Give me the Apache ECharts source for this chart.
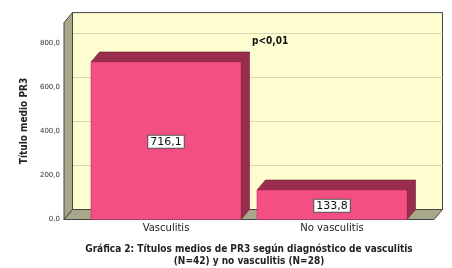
<!DOCTYPE html>
<html><head><meta charset="utf-8">
<script src="https://cdn.jsdelivr.net/npm/echarts@6/dist/echarts.min.js"></script>
<style>html,body{margin:0;padding:0;background:#fff}#c{width:452px;height:268px}</style>
</head><body><div id="c"></div>
<script>
const categories = ['Vasculitis', 'No vasculitis'];
const values = [716.1, 133.8];
const yTicks = [0, 200, 400, 600, 800];
const yName = 'Título medio PR3';
const titleText = 'Gráfica 2: Títulos medios de PR3 según diagnóstico de vasculitis\n(N=42) y no vasculitis (N=28)';
const pText = 'p<0,01';

const DX = 8.5, DY = 10;
const FONT = '"DejaVu Sans", Verdana, sans-serif';
const CFONT = '"DejaVu Sans Condensed", "DejaVu Sans", sans-serif';
const chart = echarts.init(document.getElementById('c'), null, {renderer: 'canvas'});

function wallItem(params, api) {
  const cs = params.coordSys;
  const x0 = cs.x, x1 = cs.x + cs.width, yT = cs.y, y0 = cs.y + cs.height;
  const ch = [];
  ch.push({type: 'polygon', shape: {points: [[x0 + DX, yT - DY], [x1 + DX, yT - DY], [x1 + DX, y0 - DY], [x0 + DX, y0 - DY]]},
    style: {fill: '#fefdd0', stroke: '#444', lineWidth: 1}});
  yTicks.forEach(t => {
    if (t === 0) return;
    const y = api.coord([0, t])[1] - DY;
    ch.push({type: 'line', shape: {x1: x0 + DX, y1: y, x2: x1 + DX, y2: y}, style: {stroke: '#d9d7b4', lineWidth: 1}});
  });
  ch.push({type: 'polygon', shape: {points: [[x0, y0], [x0, yT], [x0 + DX, yT - DY], [x0 + DX, y0 - DY]]},
    style: {fill: '#a9a78a', stroke: '#444', lineWidth: 1}});
  ch.push({type: 'polygon', shape: {points: [[x0, y0], [x1, y0], [x1 + DX, y0 - DY], [x0 + DX, y0 - DY]]},
    style: {fill: '#a9a78a', stroke: '#444', lineWidth: 1}});
  return {type: 'group', children: ch};
}

function barItem(params, api) {
  const xi = api.value(0), v = api.value(1);
  const top = api.coord([xi, v]);
  const base = api.coord([xi, 0]);
  const hw = api.size([0.9036, 0])[0] / 2;
  const xl = top[0] - hw, xr = top[0] + hw, yt = top[1], yb = base[1];
  const label = values[params.dataIndex].toFixed(1).replace('.', ',');
  return {type: 'group', children: [
    {type: 'polygon', shape: {points: [[xr, yt], [xr + DX, yt - DY], [xr + DX, yb - DY], [xr, yb]]},
      style: {fill: '#9a2c4e', stroke: '#6a1f36', lineWidth: 0.6}},
    {type: 'polygon', shape: {points: [[xl, yt], [xl + DX, yt - DY], [xr + DX, yt - DY], [xr, yt]]},
      style: {fill: '#9a2c4e', stroke: '#6a1f36', lineWidth: 0.6}},
    {type: 'rect', shape: {x: xl, y: yt, width: xr - xl, height: yb - yt},
      style: {fill: '#f34f82', stroke: '#b8365e', lineWidth: 0.6}},
    {type: 'text', x: (xl + xr) / 2, y: (yt + yb) / 2 + 1,
      style: {text: label, fill: '#111', font: '11px ' + FONT, align: 'center', verticalAlign: 'middle',
        backgroundColor: '#fff', borderColor: '#555', borderWidth: 1, padding: [1, 2, 0, 2]}}
  ]};
}

chart.setOption({
  animation: false,
  backgroundColor: '#fff',
  grid: {left: 64, right: 18, top: 22.6, bottom: 48.5},
  title: {text: titleText, left: 244, textAlign: 'center', top: 238,
    textStyle: {fontFamily: CFONT, fontWeight: 'bold', fontSize: 10, lineHeight: 12, color: '#222'}},
  xAxis: {type: 'value', min: -0.6145, max: 1.6145,
    axisLine: {show: false}, axisTick: {show: false}, splitLine: {show: false},
    axisLabel: {customValues: [0, 1], formatter: v => categories[Math.round(v)] || '',
      fontFamily: FONT, fontSize: 10, color: '#222', margin: 4}},
  yAxis: {type: 'value', min: 0, max: 895, interval: 200,
    name: yName, nameLocation: 'middle', nameGap: 33,
    nameTextStyle: {fontFamily: CFONT, fontWeight: 'bold', fontSize: 10, color: '#222'},
    axisLine: {show: false}, splitLine: {show: false},
    axisTick: {show: true, customValues: yTicks, length: 2, lineStyle: {color: '#444'}},
    axisLabel: {customValues: yTicks, formatter: v => v.toFixed(1).replace('.', ','),
      fontFamily: FONT, fontSize: 7, color: '#333', margin: 4}},
  graphic: [{type: 'text', left: 252, top: 36, z: 100,
    style: {text: pText, font: 'bold 10px ' + CFONT, fill: '#111'}}],
  series: [
    {type: 'custom', renderItem: wallItem, data: [[0, 0]], silent: true, z: 1},
    {type: 'custom', renderItem: barItem, data: values.map((v, i) => [i, v]), encode: {x: 0, y: 1}, z: 2}
  ]
});
</script></body></html>
